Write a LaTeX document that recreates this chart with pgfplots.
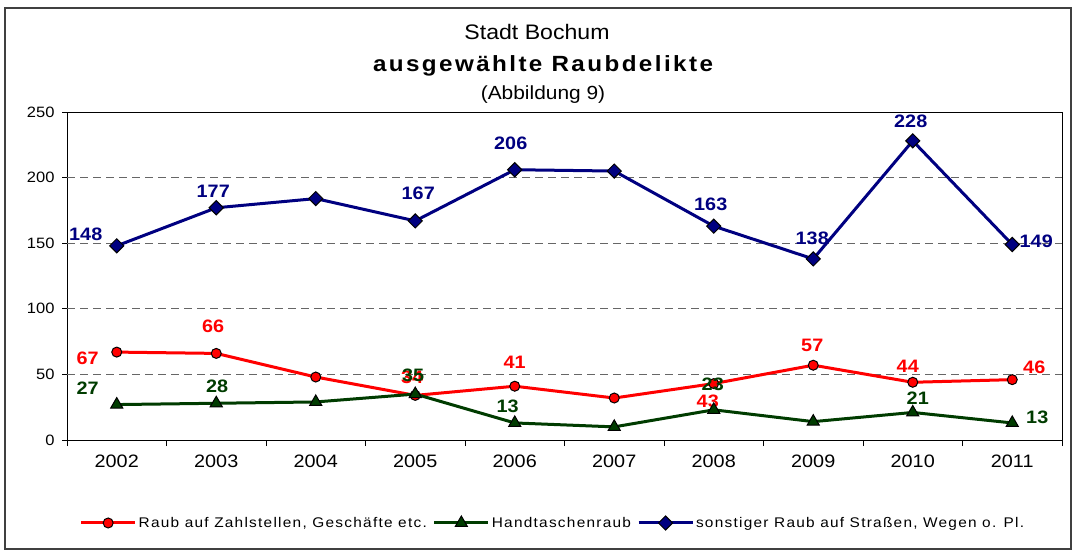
\documentclass[border=0pt]{standalone}
\usepackage{fontspec}
\setmainfont{Liberation Sans}[FakeStretch=1.1]
\newfontfamily\legfont{Liberation Sans}[FakeStretch=1.1,LetterSpace=9]
\newfontfamily\titfont{Liberation Sans}[FakeStretch=1.1,LetterSpace=11]
\usepackage{pgfplots}
\usepackage{pgfplotstable}
\pgfplotsset{compat=1.18}
\definecolor{cred}{RGB}{255,0,0}
\definecolor{cgreen}{RGB}{0,60,0}
\definecolor{cblue}{RGB}{0,0,128}

\pgfplotstableread{
x y lab dx dy
0 67 67 -29 -6
1 66 66 -3 27
2 48 {} 0 0
3 34 34 -3 18
4 41 41 0 24
5 32 {} 0 0
6 43 43 -6 -18
7 57 57 -1 20
8 44 44 -5 16
9 46 46 22 12
}\redtab

\pgfplotstableread{
x y lab dx dy
0 27 27 -29 16
1 28 28 1 17
2 29 {} 0 0
3 35 35 -2 19
4 13 13 -7 17
5 10 {} 0 0
6 23 23 -1 26
7 14 {} 0 0
8 21 21 5 14
9 13 13 25 6
}\greentab

\pgfplotstableread{
x y lab dx dy
0 148 148 -31 12
1 177 177 -3 16
2 184 {} 0 0
3 167 167 3 28
4 206 206 -4 26
5 205 {} 0 0
6 163 163 -3 22
7 138 138 -1 21
8 228 228 -2 20
9 149 149 24 3
}\bluetab

\begin{document}
\begin{tikzpicture}
\useasboundingbox (0,0) rectangle (1074pt,550pt);
\draw[line width=1.5pt, black!75] (5pt,1pt) rectangle (1071pt,542pt);
\node[font=\fontsize{21}{25}\selectfont] at (537pt,518pt) {Stadt Bochum};
\node[font=\titfont\bfseries\fontsize{22}{26}\selectfont] at (543pt,484pt) {ausgewählte Raubdelikte};
\node[font=\fontsize{19}{23}\selectfont] at (543pt,455pt) {(Abbildung 9)};
\begin{axis}[
  at={(67pt,110pt)}, anchor=south west, scale only axis,
  width=995pt, height=328pt,
  xmin=-0.5, xmax=9.5, ymin=0, ymax=250,
  clip=false,
  xtick={0,...,9},
  xticklabels={2002,2003,2004,2005,2006,2007,2008,2009,2010,2011},
  minor xtick={-0.5,0.5,...,9.5},
  major x tick style={draw=none},
  minor x tick style={draw=black, line width=1pt},
  minor tick length=6pt,
  major tick length=5pt,
  tick align=outside,
  xtick pos=bottom, ytick pos=left,
  ytick={0,50,...,250},
  y tick style={draw=black, line width=1pt},
  extra y ticks={50,100,150,200},
  extra y tick labels={},
  extra y tick style={grid=major, major tick length=0pt},
  major grid style={draw=black!60, line width=1pt, dash pattern=on 8pt off 5pt},
  axis line style={draw=black, line width=1pt},
  /pgf/number format/assume math mode=true,
  yticklabel style={font=\fontsize{15}{18}\selectfont, xshift=-4pt},
  xticklabel style={font=\fontsize{18}{21}\selectfont, yshift=-6pt},
  legend columns=3,
  legend style={at={(0.4884,-0.253)}, anchor=center, draw=none,
    font=\legfont\fontsize{14}{17}\selectfont,
    /tikz/every even column/.append style={column sep=4pt},
    inner sep=0pt, nodes={inner sep=2pt}},
  legend image code/.code={\draw[mark repeat=2,mark phase=2] plot coordinates {(0pt,0pt)(27pt,0pt)(54pt,0pt)};},
]
\addplot[cred, line width=3pt, mark=*, mark size=5pt,
  mark options={fill=cred, draw=black, line width=1pt},
  point meta=explicit symbolic, nodes near coords,
  visualization depends on={\thisrow{dx}\as\dx},
  visualization depends on={\thisrow{dy}\as\dy},
  nodes near coords style={anchor=center, xshift=\dx pt, yshift=\dy pt, text=cred, font=\bfseries\fontsize{18}{21}\selectfont}]
  table[x=x,y=y,meta=lab]{\redtab};
\addlegendentry{Raub auf Zahlstellen, Geschäfte etc.}
\addplot[cgreen, line width=3pt, mark=triangle*, mark size=7pt,
  mark options={fill=cgreen, draw=black, line width=1pt},
  point meta=explicit symbolic, nodes near coords,
  visualization depends on={\thisrow{dx}\as\dx},
  visualization depends on={\thisrow{dy}\as\dy},
  nodes near coords style={anchor=center, xshift=\dx pt, yshift=\dy pt, text=cgreen, font=\bfseries\fontsize{18}{21}\selectfont}]
  table[x=x,y=y,meta=lab]{\greentab};
\addlegendentry{Handtaschenraub}
\addplot[cblue, line width=3pt, mark=square*, mark size=5pt,
  mark options={fill=cblue, draw=black, line width=1pt, rotate=45},
  point meta=explicit symbolic, nodes near coords,
  visualization depends on={\thisrow{dx}\as\dx},
  visualization depends on={\thisrow{dy}\as\dy},
  nodes near coords style={anchor=center, xshift=\dx pt, yshift=\dy pt, text=cblue, font=\bfseries\fontsize{18}{21}\selectfont}]
  table[x=x,y=y,meta=lab]{\bluetab};
\addlegendentry{sonstiger Raub auf Straßen, Wegen o. Pl.}
\end{axis}
\end{tikzpicture}
\end{document}
